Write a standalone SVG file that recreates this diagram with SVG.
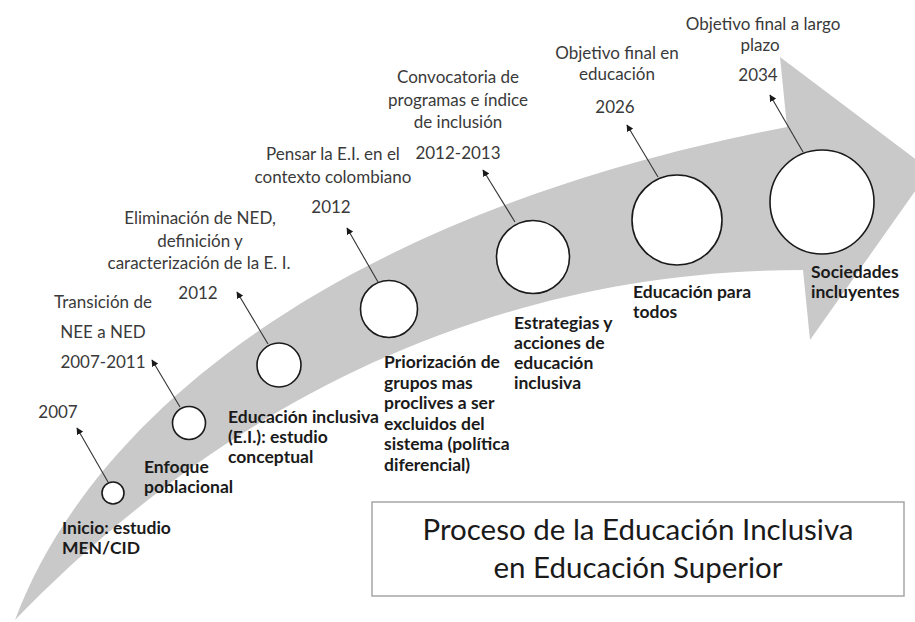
<svg xmlns="http://www.w3.org/2000/svg" width="915" height="622" viewBox="0 0 915 622">
  <defs>
    <marker id="ah" viewBox="0 0 10 10" refX="9" refY="5" markerWidth="7" markerHeight="7" orient="auto" markerUnits="userSpaceOnUse">
      <path d="M0,0 L10,5 L0,10 Z" fill="#1a1a1a"/>
    </marker>
    <style>
      .band { fill: #c9c9c9; }
      .node circle { fill: #ffffff; stroke: #1a1a1a; stroke-width: 1.6; }
      .conn line { stroke: #333333; stroke-width: 1.1; marker-end: url(#ah); }
      .lbl { font-family: Lato, "Open Sans", sans-serif; font-size: 17px; fill: #3a3a3a; text-anchor: middle; }
      .bld { font-family: Lato, "Open Sans", sans-serif; font-size: 17.5px; font-weight: bold; fill: #1a1a1a; }
      .title { font-family: Lato, "Open Sans", sans-serif; font-size: 29.5px; fill: #1a1a1a; text-anchor: middle; }
    </style>
  </defs>
  <rect width="915" height="622" fill="#ffffff"/>

  <path class="band" d="M15,620 C90,420 330,215 787,127 L780,57 L930,170 L810,340 L803,270 C420,270 160,470 15,620 Z"/>

  <g id="connectors" class="conn">
    <line x1="108" y1="482" x2="77" y2="428"/>
    <line x1="180" y1="407" x2="152" y2="360"/>
    <line x1="268" y1="344" x2="237" y2="292"/>
    <line x1="378" y1="282" x2="347" y2="228"/>
    <line x1="515" y1="222" x2="483" y2="170"/>
    <line x1="658" y1="177" x2="627" y2="125"/>
    <line x1="803" y1="152" x2="770" y2="95"/>
  </g>

  <g id="node1" class="node">
    <circle cx="113" cy="493" r="11"/>
    <text class="lbl" x="58" y="418">2007</text>
    <text class="bld" x="62" y="534">Inicio: estudio</text>
    <text class="bld" x="62" y="554">MEN/CID</text>
  </g>
  <g id="node2" class="node">
    <circle cx="189" cy="423" r="16.5"/>
    <text class="lbl" x="103" y="308">Transición de</text>
    <text class="lbl" x="103" y="338">NEE a NED</text>
    <text class="lbl" x="103" y="368">2007-2011</text>
    <text class="bld" x="144" y="473">Enfoque</text>
    <text class="bld" x="144" y="493">poblacional</text>
  </g>
  <g id="node3" class="node">
    <circle cx="279" cy="365" r="22"/>
    <text class="lbl" x="200" y="224">Eliminación de NED,</text>
    <text class="lbl" x="200" y="247">definición y</text>
    <text class="lbl" x="199" y="269">caracterización de la E. I.</text>
    <text class="lbl" x="198" y="299">2012</text>
    <text class="bld" x="228" y="423">Educación inclusiva</text>
    <text class="bld" x="228" y="443">(E.I.): estudio</text>
    <text class="bld" x="228" y="463">conceptual</text>
  </g>
  <g id="node4" class="node">
    <circle cx="389" cy="309" r="28.5"/>
    <text class="lbl" x="333" y="160">Pensar la E.I. en el</text>
    <text class="lbl" x="333" y="183">contexto colombiano</text>
    <text class="lbl" x="331" y="213">2012</text>
    <text class="bld" x="384" y="368">Priorización de</text>
    <text class="bld" x="384" y="388.5">grupos mas</text>
    <text class="bld" x="384" y="409">proclives a ser</text>
    <text class="bld" x="384" y="429.5">excluidos del</text>
    <text class="bld" x="384" y="450">sistema (política</text>
    <text class="bld" x="384" y="470.5">diferencial)</text>
  </g>
  <g id="node5" class="node">
    <circle cx="533" cy="257" r="36.5"/>
    <text class="lbl" x="458" y="83">Convocatoria de</text>
    <text class="lbl" x="458" y="106">programas e índice</text>
    <text class="lbl" x="458" y="128">de inclusión</text>
    <text class="lbl" x="458" y="159">2012-2013</text>
    <text class="bld" x="514" y="329">Estrategias y</text>
    <text class="bld" x="514" y="349">acciones de</text>
    <text class="bld" x="514" y="369">educación</text>
    <text class="bld" x="514" y="389">inclusiva</text>
  </g>
  <g id="node6" class="node">
    <circle cx="677" cy="220" r="45"/>
    <text class="lbl" x="617" y="59">Objetivo final en</text>
    <text class="lbl" x="617" y="80">educación</text>
    <text class="lbl" x="615" y="113">2026</text>
    <text class="bld" x="633" y="298">Educación para</text>
    <text class="bld" x="633" y="318">todos</text>
  </g>
  <g id="node7" class="node">
    <circle cx="822" cy="202" r="52"/>
    <text class="lbl" x="763" y="30">Objetivo final a largo</text>
    <text class="lbl" x="760" y="51">plazo</text>
    <text class="lbl" x="758" y="81">2034</text>
    <text class="bld" x="811" y="278">Sociedades</text>
    <text class="bld" x="811" y="298">incluyentes</text>
  </g>

  <g id="titlebox">
    <rect x="372" y="502" width="532" height="94" fill="#ffffff" stroke="#a6a6a6" stroke-width="1.5"/>
    <text class="title" x="638" y="540">Proceso de la Educación Inclusiva</text>
    <text class="title" x="638" y="578">en Educación Superior</text>
  </g>
</svg>
